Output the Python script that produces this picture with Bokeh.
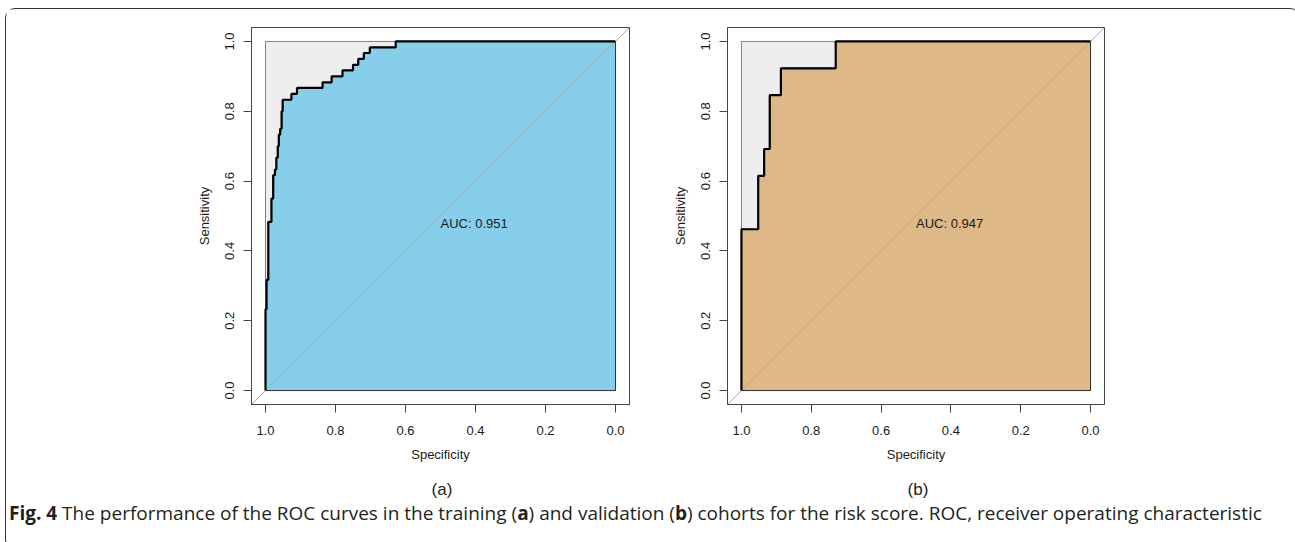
from bokeh.plotting import figure
from bokeh.models import Range1d, FixedTicker, NumeralTickFormatter, Div
from bokeh.layouts import row, column
from bokeh.embed import file_html
from bokeh.resources import INLINE
from bokeh.core.properties import value

# ---- data ----
tick_values = [0.0, 0.2, 0.4, 0.6, 0.8, 1.0]

# training cohort (a)
spec_a = [1.000, 1.000, 0.997, 0.997, 0.992, 0.992, 0.983, 0.983, 0.978, 0.978,
          0.973, 0.973, 0.969, 0.969, 0.965, 0.965, 0.962, 0.962, 0.958, 0.958,
          0.954, 0.954, 0.951, 0.951, 0.926, 0.926, 0.910, 0.910, 0.837, 0.837,
          0.811, 0.811, 0.780, 0.780, 0.750, 0.750, 0.735, 0.735, 0.719, 0.719,
          0.702, 0.702, 0.628, 0.628, 0.000]
sens_a = [0.000, 0.233, 0.233, 0.317, 0.317, 0.483, 0.483, 0.550, 0.550, 0.617,
          0.617, 0.633, 0.633, 0.667, 0.667, 0.700, 0.700, 0.733, 0.733, 0.750,
          0.750, 0.800, 0.800, 0.833, 0.833, 0.850, 0.850, 0.867, 0.867, 0.883,
          0.883, 0.900, 0.900, 0.917, 0.917, 0.933, 0.933, 0.950, 0.950, 0.967,
          0.967, 0.983, 0.983, 1.000, 1.000]
auc_a = 0.951

# validation cohort (b)
spec_b = [1.000, 1.000, 0.952, 0.952, 0.935, 0.935, 0.919, 0.919, 0.887, 0.887,
          0.730, 0.730, 0.000]
sens_b = [0.000, 0.462, 0.462, 0.615, 0.615, 0.692, 0.692, 0.846, 0.846, 0.923,
          0.923, 1.000, 1.000]
auc_b = 0.947

FONT = "Liberation Sans"
TXT = "#1a1a1a"
FRAME = "#444444"


def panel(spec, sens, auc, fill, ml, mr):
    frame_w = 378
    p = figure(width=ml + frame_w + mr, height=456,
               x_range=Range1d(1.04, -0.04), y_range=Range1d(-0.04, 1.04),
               output_backend="svg", toolbar_location=None,
               min_border_left=ml, min_border_right=mr,
               min_border_top=18, min_border_bottom=61)
    p.grid.visible = False
    p.outline_line_color = FRAME
    p.outline_line_width = 1
    p.background_fill_color = "white"
    p.border_fill_color = "white"

    # max AUC square
    p.patch([1, 0, 0, 1], [0, 0, 1, 1], fill_color="#EEEEEE",
            line_color="#808080", line_width=1)
    # AUC polygon
    p.patch(spec + [0.0], sens + [0.0], fill_color=fill,
            line_color="#333333", line_width=1)
    # diagonal reference
    p.line([1.04, -0.04], [-0.04, 1.04], line_color="#AAAAAA", line_width=1)
    # ROC curve
    p.line(spec, sens, line_color="black", line_width=2.2)
    # AUC text
    p.text(x=[0.5], y=[0.5], text=["AUC: %.3f" % auc],
           text_font=value(FONT), text_font_size="13px", text_color=TXT,
           text_align="left", text_baseline="top")

    for ax in (p.xaxis[0], p.yaxis[0]):
        ax.ticker = FixedTicker(ticks=tick_values)
        ax.formatter = NumeralTickFormatter(format="0.0")
        ax.major_tick_out = 8
        ax.major_tick_in = 0
        ax.minor_tick_line_color = None
        ax.axis_line_color = FRAME
        ax.major_tick_line_color = FRAME
        ax.major_label_text_font = FONT
        ax.major_label_text_font_size = "13px"
        ax.major_label_text_color = TXT
        ax.axis_label_text_font = FONT
        ax.axis_label_text_font_size = "13px"
        ax.axis_label_text_font_style = "normal"
        ax.axis_label_text_color = TXT
    p.xaxis.axis_label = "Specificity"
    p.xaxis.major_label_standoff = 13
    p.xaxis.axis_label_standoff = 9
    p.yaxis.axis_label = "Sensitivity"
    p.yaxis.major_label_orientation = "vertical"
    p.yaxis.major_label_standoff = 9
    p.yaxis.axis_label_standoff = 11
    return p


pa = panel(spec_a, sens_a, auc_a, "#87CEEB", 245, 40)
pb = panel(spec_b, sens_b, auc_b, "#DEB887", 57, 177)

caption_html = (
    '<div style="position:relative;width:1283px;height:74px;'
    'font-family:\'Open Sans\';color:#231F20;">'
    '<div style="position:absolute;left:381px;top:10px;width:100px;'
    'text-align:center;font-family:\'Liberation Sans\';font-size:17px;'
    'line-height:19px;">(a)</div>'
    '<div style="position:absolute;left:857px;top:10px;width:100px;'
    'text-align:center;font-family:\'Liberation Sans\';font-size:17px;'
    'line-height:19px;">(b)</div>'
    '<div style="position:absolute;left:-2px;top:33px;white-space:nowrap;'
    'font-size:19px;line-height:21px;"><b>Fig. 4</b> The performance of the ROC '
    'curves in the training (<b>a</b>) and validation (<b>b</b>) cohorts for the '
    'risk score. ROC, receiver operating characteristic</div>'
    '</div>'
)
cap = Div(text=caption_html, width=1283, height=74)

layout = column(row(pa, pb), cap,
                styles={"border": "1px solid #333333", "border-radius": "10px",
                        "margin-left": "5px", "margin-top": "8px"})

open("out.html", "w").write(file_html(layout, INLINE))
